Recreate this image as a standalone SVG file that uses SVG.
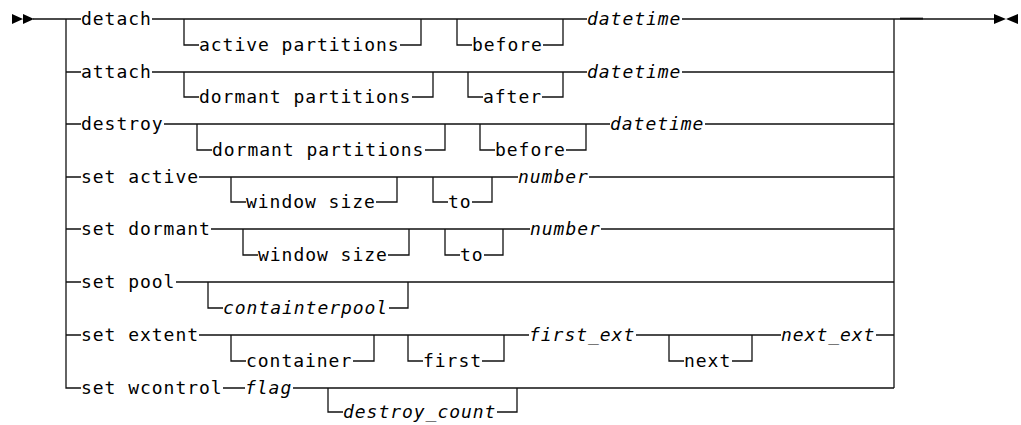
<svg xmlns="http://www.w3.org/2000/svg" width="1021" height="425" viewBox="0 0 1021 425">
  <style>
    .t { font-family: "DejaVu Sans Mono", "Liberation Mono", monospace; font-size: 18px; letter-spacing: 0.96px; fill: #000; }
    .v { font-style: italic; }
    .ln { fill: none; stroke: #111; stroke-width: 1.3; }
    .cap { fill: #000; }
  </style>
  <rect width="1021" height="425" fill="#fff"/>

  <!-- rails -->
  <g id="connectors" class="ln">
    <!-- entry, left fork and right join -->
    <path d="M33,19 H81 M66,19 V388 H81 M894,19 V388 M894,19 H994"/>
    <path d="M900,18.6 H923" stroke-width="1.9"/>
    <!-- detach -->
    <path d="M66,72 H81 M152,19 H587 M682,19 H894"/>
    <path d="M184,19 V45 H199 M400,45 H421 V19 M457,19 V45 H472 M543,45 H563 V19"/>
    <!-- attach -->
    <path d="M152,72 H587 M682,72 H894"/>
    <path d="M184,72 V97 H199 M412,97 H433 V72 M468,72 V97 H483 M542,97 H563 V72"/>
    <!-- destroy -->
    <path d="M66,124 H81 M164,124 H610 M705,124 H894"/>
    <path d="M197,124 V150 H212 M425,150 H445 V124 M480,124 V150 H495 M566,150 H586 V124"/>
    <!-- set active -->
    <path d="M66,177 H81 M199,177 H518 M589,177 H894"/>
    <path d="M231,177 V202 H246 M376,202 H397 V177 M433,177 V202 H448 M472,202 H492 V177"/>
    <!-- set dormant -->
    <path d="M66,229 H81 M211,229 H530 M601,229 H894"/>
    <path d="M243,229 V255 H258 M388,255 H409 V229 M445,229 V255 H460 M484,255 H503 V229"/>
    <!-- set pool -->
    <path d="M66,282 H81 M176,282 H894"/>
    <path d="M208,282 V308 H223 M389,308 H408 V282"/>
    <!-- set extent -->
    <path d="M66,335 H81 M199,335 H529 M636,335 H781 M876,335 H894"/>
    <path d="M231,335 V361 H246 M353,361 H374 V335 M408,335 V361 H423 M482,361 H504 V335 M669,335 V361 H684 M732,361 H752 V335"/>
    <!-- set wcontrol -->
    <path d="M223,388 H245 M293,388 H894"/>
    <path d="M328,388 V412 H343 M497,412 H517 V388"/>
  </g>

  <!-- start and end marks -->
  <g id="start">
    <path class="cap" d="M12,14 L23,19 L12,24 Z M23,14 L34,19 L23,24 Z"/>
  </g>
  <g id="end">
    <path class="cap" d="M994,14 L1006,19 L994,24 Z M1018,14 L1006,19 L1018,24 Z"/>
  </g>

  <!-- detach -->
  <g id="kw-detach"><text class="t" x="81" y="25">detach</text></g>
  <g id="opt-active-partitions-1"><text class="t" x="199" y="51">active partitions</text></g>
  <g id="opt-before-1"><text class="t" x="472" y="51">before</text></g>
  <g id="var-datetime-1"><text class="t v" x="587" y="25">datetime</text></g>

  <!-- attach -->
  <g id="kw-attach"><text class="t" x="81" y="78">attach</text></g>
  <g id="opt-dormant-partitions-1"><text class="t" x="199" y="103">dormant partitions</text></g>
  <g id="opt-after"><text class="t" x="483" y="103">after</text></g>
  <g id="var-datetime-2"><text class="t v" x="587" y="78">datetime</text></g>

  <!-- destroy -->
  <g id="kw-destroy"><text class="t" x="81" y="130">destroy</text></g>
  <g id="opt-dormant-partitions-2"><text class="t" x="212" y="156">dormant partitions</text></g>
  <g id="opt-before-2"><text class="t" x="495" y="156">before</text></g>
  <g id="var-datetime-3"><text class="t v" x="610" y="130">datetime</text></g>

  <!-- set active -->
  <g id="kw-set-active"><text class="t" x="81" y="183">set active</text></g>
  <g id="opt-window-size-1"><text class="t" x="246" y="208">window size</text></g>
  <g id="opt-to-1"><text class="t" x="448" y="208">to</text></g>
  <g id="var-number-1"><text class="t v" x="518" y="183">number</text></g>

  <!-- set dormant -->
  <g id="kw-set-dormant"><text class="t" x="81" y="235">set dormant</text></g>
  <g id="opt-window-size-2"><text class="t" x="258" y="261">window size</text></g>
  <g id="opt-to-2"><text class="t" x="460" y="261">to</text></g>
  <g id="var-number-2"><text class="t v" x="530" y="235">number</text></g>

  <!-- set pool -->
  <g id="kw-set-pool"><text class="t" x="81" y="288">set pool</text></g>
  <g id="opt-containterpool"><text class="t v" x="223" y="314">containterpool</text></g>

  <!-- set extent -->
  <g id="kw-set-extent"><text class="t" x="81" y="341">set extent</text></g>
  <g id="opt-container"><text class="t" x="246" y="367">container</text></g>
  <g id="opt-first"><text class="t" x="423" y="367">first</text></g>
  <g id="var-first-ext"><text class="t v" x="529" y="341">first_ext</text></g>
  <g id="opt-next"><text class="t" x="684" y="367">next</text></g>
  <g id="var-next-ext"><text class="t v" x="781" y="341">next_ext</text></g>

  <!-- set wcontrol -->
  <g id="kw-set-wcontrol"><text class="t" x="81" y="394">set wcontrol</text></g>
  <g id="var-flag"><text class="t v" x="245" y="394">flag</text></g>
  <g id="opt-destroy-count"><text class="t v" x="343" y="418">destroy_count</text></g>
</svg>
